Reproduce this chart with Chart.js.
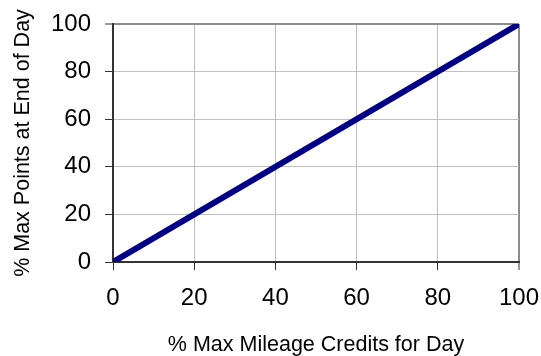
<!DOCTYPE html>
<html>
<head>
<meta charset="utf-8">
<script src="https://cdn.jsdelivr.net/npm/chart.js@4/dist/chart.umd.min.js"></script>
<style>
  html, body { margin: 0; padding: 0; background: #fff; }
  #wrap { width: 541px; height: 356px; }
</style>
</head>
<body>
<div id="wrap"><canvas id="chart" width="541" height="356"></canvas></div>
<script>
// valores
const mileageCredits = [0, 100];
const maxPoints = [0, 100];
const tickValues = [0, 20, 40, 60, 80, 100];

const xTitle = '% Max Mileage Credits for Day';
const yTitle = '% Max Points at End of Day';

const fontFamily = '"Liberation Sans", Arial, sans-serif';

const points = mileageCredits.map((x, i) => ({ x: x, y: maxPoints[i] }));

// grade: última linha mais escura (borda do gráfico)
function gridColor(ctx) {
    return ctx.tick && ctx.tick.value === 100 ? '#8c8c8c' : '#bfbfbf';
}
function gridWidth(ctx) {
    return ctx.tick && ctx.tick.value === 100 ? 2 : 1;
}

const ctx = document.getElementById('chart').getContext('2d');
new Chart(ctx, {
    type: 'scatter',
    data: {
        datasets: [{
            data: points,
            showLine: true,
            borderColor: '#000080',
            borderWidth: 6,
            pointRadius: 0,
            fill: false
        }]
    },
    options: {
        responsive: false,
        animation: false,
        layout: { padding: { top: 24, right: 22, left: 0, bottom: -2 } },
        plugins: { legend: { display: false }, tooltip: { enabled: false } },
        scales: {
            x: {
                type: 'linear',
                min: 0,
                max: 100,
                afterBuildTicks: axis => { axis.ticks = tickValues.map(v => ({ value: v })); },
                afterFit: axis => { axis.height = 96; axis.paddingLeft = 0; axis.paddingRight = 0; },
                border: { color: '#333', width: 2 },
                grid: { color: gridColor, lineWidth: gridWidth, tickLength: 8, tickColor: '#333', tickWidth: 1 },
                ticks: { color: '#000', font: { family: fontFamily, size: 24 }, padding: 14, maxRotation: 0 },
                title: { display: true, text: xTitle, color: '#000', font: { family: fontFamily, size: 21.5 }, padding: { top: 0, bottom: 0 } }
            },
            y: {
                type: 'linear',
                min: 0,
                max: 100,
                afterBuildTicks: axis => { axis.ticks = tickValues.map(v => ({ value: v })); },
                afterFit: axis => { axis.width = 113; axis.paddingTop = 0; axis.paddingBottom = 0; },
                border: { color: '#333', width: 2 },
                grid: { color: gridColor, lineWidth: gridWidth, tickLength: 8, tickColor: '#333', tickWidth: 1 },
                ticks: { color: '#000', font: { family: fontFamily, size: 24 }, padding: 14 },
                title: { display: true, text: yTitle, color: '#000', font: { family: fontFamily, size: 21.5 }, padding: { top: 10 } }
            }
        }
    }
});
</script>
</body>
</html>
